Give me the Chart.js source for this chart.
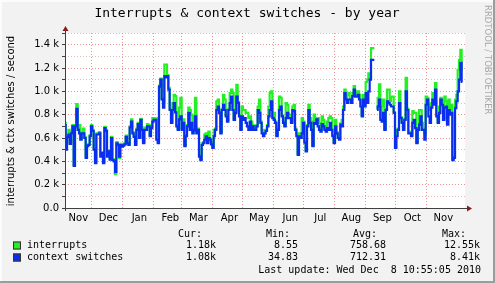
<!DOCTYPE html>
<html>
<head>
<meta charset="utf-8">
<script src="https://cdn.jsdelivr.net/npm/chart.js@4.4.1/dist/chart.umd.min.js"></script>
<style>
  html, body { margin: 0; padding: 0; background: #f2f2f2; }
  canvas { display: block; }
</style>
</head>
<body>
<canvas id="yearChart" width="495" height="283"></canvas>
<script>
// readings taken every 4/3 day, starting Nov 4 2009
var daysPerSample = 4 / 3;

var interrupts = [
  730,510,620,670,560,650,710,370,710,890,
  680,710,595,650,680,610,440,540,550,625,
  710,670,510,395,640,640,650,450,480,395,
  695,670,450,495,425,610,420,410,290,565,
  550,430,550,535,545,555,620,565,550,700,
  760,650,620,550,680,730,610,765,680,565,
  690,680,720,710,625,695,770,770,765,595,
  770,1050,1110,940,900,
  1230,1230,1140,1030,850,740,900,970,960,710,
  680,860,945,680,760,540,625,710,860,840,
  800,650,785,945,650,680,450,420,555,565,
  630,640,565,655,595,555,525,670,680,915,
  930,825,650,850,970,930,795,750,850,985,
  1015,985,765,825,1055,910,795,680,870,840,
  840,815,815,770,785,740,710,680,700,710,
  870,930,740,670,
  655,670,670,710,870,985,1000,780,815,740,
  625,700,955,945,795,740,710,900,885,800,
  800,740,870,885,680,640,465,640,610,770,
  740,570,495,710,885,770,740,540,800,755,
  770,770,730,665,785,755,680,700,740,770,
  785,770,625,565,755,650,630,595,725,755,
  870,1015,940,970,985,940,910,985,1045,1000,
  965,1000,970,915,795,970,930,1080,
  1100,1155,1110,1370,1370,1370,null,850,945,1060,
  765,870,930,680,850,1015,1015,915,955,955,
  825,525,670,680,1000,780,740,680,765,1115,
  850,650,655,625,830,815,815,565,680,840,
  840,730,680,640,955,945,885,840,900,985,
  945,1070,795,740,870,945,930,765,955,915,
  725,930,810,885,420,440,930,970,1185,1270,
  1355,1180
];

var contextSwitches = [
  710,500,610,630,550,640,700,360,700,850,
  670,640,585,640,640,600,430,530,540,615,
  700,660,500,385,630,630,640,440,470,385,
  685,660,440,485,415,600,410,400,310,555,
  540,440,540,525,535,545,610,555,540,690,
  740,640,610,540,670,720,600,755,670,555,
  670,670,700,700,615,685,740,755,755,585,
  555,1040,1100,930,860,
  1130,1120,1130,1015,840,730,840,900,820,700,
  670,760,785,670,730,530,615,700,815,670,
  730,640,670,785,640,670,440,410,540,555,
  585,615,555,600,585,545,515,615,670,840,
  870,815,640,840,885,840,785,740,840,900,
  955,840,755,815,955,900,785,670,785,755,
  770,730,700,670,740,670,700,670,670,700,
  840,815,730,640,
  615,640,660,700,785,840,915,770,755,730,
  615,670,840,870,785,730,700,770,815,770,
  770,730,840,830,670,615,455,615,600,640,
  730,560,485,700,840,730,670,530,730,720,
  760,700,670,655,720,700,670,655,685,670,
  730,670,615,555,700,640,600,585,715,700,
  840,985,930,900,930,930,900,960,1015,955,
  955,970,930,870,785,930,870,985,
  900,1000,1100,1270,1270,1270,null,840,870,930,
  755,740,815,670,840,915,900,885,870,870,
  815,515,615,670,900,770,730,670,755,1000,
  840,640,640,615,730,755,685,555,670,715,
  785,670,670,585,885,930,785,730,860,930,
  885,1015,785,730,815,930,885,755,860,870,
  715,840,800,815,410,430,855,915,1000,1100,
  1245,1080
];

var monthNames = ['Nov','Dec','Jan','Feb','Mar','Apr','May','Jun','Jul','Aug','Sep','Oct','Nov'];
var seriesNames = ['interrupts', 'context switches'];
var seriesColors = ['#22f022', '#0a2ef0'];
var statHeaders = ['Cur:', 'Min:', 'Avg:', 'Max:'];
var interruptStats = ['1.18k', '8.55', '758.68', '12.55k'];
var contextStats = ['1.08k', '34.83', '712.31', '8.41k'];
var lastUpdate = 'Last update: Wed Dec  8 10:55:05 2010';

var startTime = Date.UTC(2009, 10, 4, 8);
function dayOf(y, m, d) {
  return (Date.UTC(y, m, d) - startTime) / 86400000;
}

// month starts (grid lines) and mid-month label positions
var monthStarts = [];
var labelDays = [];
for (var i = 0; i < monthNames.length; i++) {
  var m = 10 + i;
  var start = dayOf(2009 + Math.floor(m / 12), m % 12, 1);
  if (i > 0) monthStarts.push(start);
  labelDays.push(start + 16.7);
}

function toPoints(arr) {
  return arr.map(function (v, i) { return { x: i * daysPerSample, y: v }; });
}

var mono = '"DejaVu Sans Mono", monospace';
var sans = '"DejaVu Sans", sans-serif';

var rrdFrame = {
  id: 'rrdFrame',
  beforeDraw: function (chart) {
    var c = chart.ctx, a = chart.chartArea;
    c.save();
    c.fillStyle = '#f2f2f2';
    c.fillRect(0, 0, chart.width, chart.height);
    c.fillStyle = '#fcfcfc';
    c.fillRect(0, 0, chart.width, 2);
    c.fillRect(0, 0, 2, chart.height);
    c.fillStyle = '#9c9c9c';
    c.fillRect(chart.width - 2, 0, 2, chart.height);
    c.fillRect(0, chart.height - 2, chart.width, 2);
    c.fillStyle = '#ffffff';
    c.fillRect(a.left, a.top, a.right - a.left, a.bottom - a.top);
    c.restore();
  },
  afterDraw: function (chart) {
    var c = chart.ctx, a = chart.chartArea;
    c.save();
    // axes
    c.strokeStyle = '#404040';
    c.lineWidth = 1;
    c.beginPath();
    c.moveTo(a.left + 0.5, a.bottom + 3);
    c.lineTo(a.left + 0.5, a.top - 5);
    c.moveTo(a.left - 3, a.bottom + 0.5);
    c.lineTo(a.right + 5, a.bottom + 0.5);
    c.stroke();
    c.fillStyle = '#8b1a1a';
    c.beginPath();
    c.moveTo(a.left + 0.5, a.top - 7);
    c.lineTo(a.left - 2.5, a.top - 2);
    c.lineTo(a.left + 3.5, a.top - 2);
    c.fill();
    c.beginPath();
    c.moveTo(a.right + 7, a.bottom + 0.5);
    c.lineTo(a.right + 2, a.bottom - 2.5);
    c.lineTo(a.right + 2, a.bottom + 3.5);
    c.fill();

    // title
    c.fillStyle = '#000';
    c.font = '13px ' + mono;
    c.textAlign = 'center';
    c.textBaseline = 'middle';
    c.fillText('Interrupts & context switches - by year', 247, 14);

    // y axis title
    c.save();
    c.translate(11, 121);
    c.rotate(-Math.PI / 2);
    c.font = '10px ' + sans;
    c.fillText('interrupts & ctx switches / second', 0, 0);
    c.restore();

    // watermark
    c.save();
    c.translate(487, 5);
    c.rotate(Math.PI / 2);
    c.fillStyle = '#a8a8a8';
    c.font = '8.5px ' + sans;
    c.textAlign = 'left';
    c.fillText('RRDTOOL / TOBI OETIKER', 0, 0);
    c.restore();

    // legend
    c.font = '10px ' + mono;
    c.textAlign = 'right';
    var headX = [202, 290, 377, 466];
    var valX = [216, 298, 386, 480];
    statHeaders.forEach(function (h, i) { c.fillText(h, headX[i], 234); });
    var rows = [interruptStats, contextStats];
    rows.forEach(function (stats, r) {
      var y = 245.5 + r * 12;
      c.fillStyle = seriesColors[r];
      c.fillRect(13, y - 4, 8, 8);
      c.strokeStyle = '#333';
      c.lineWidth = 1;
      c.strokeRect(13.5, y - 3.5, 7, 7);
      c.fillStyle = '#000';
      c.textAlign = 'left';
      c.fillText(seriesNames[r], 27, y);
      c.textAlign = 'right';
      stats.forEach(function (s, i) { c.fillText(s, valX[i], y); });
    });
    c.fillText(lastUpdate, 481, 270);
    c.restore();
  }
};

new Chart(document.getElementById('yearChart'), {
  type: 'line',
  data: {
    datasets: [{
      label: seriesNames[0],
      data: toPoints(interrupts),
      borderColor: seriesColors[0],
      order: 2
    }, {
      label: seriesNames[1],
      data: toPoints(contextSwitches),
      borderColor: seriesColors[1],
      order: 1
    }]
  },
  options: {
    responsive: false,
    animation: false,
    layout: { padding: { top: 33, right: 30, left: 0, bottom: 0 } },
    elements: {
      point: { radius: 0 },
      line: { borderWidth: 2.2, tension: 0, stepped: 'middle', spanGaps: false }
    },
    plugins: {
      legend: { display: false },
      tooltip: { enabled: false }
    },
    scales: {
      x: {
        type: 'linear',
        min: 0,
        max: 400,
        afterFit: function (s) { s.height = 75; },
        afterBuildTicks: function (s) {
          var t = monthStarts.concat(labelDays).sort(function (p, q) { return p - q; });
          s.ticks = t.map(function (v) { return { value: v }; });
        },
        ticks: {
          autoSkip: false,
          maxRotation: 0,
          padding: 4,
          color: '#000',
          font: { family: sans, size: 10 },
          callback: function (v) {
            var idx = labelDays.indexOf(v);
            return idx >= 0 ? monthNames[idx] : '';
          }
        },
        grid: {
          drawTicks: false,
          lineWidth: 1,
          color: function (ctx) {
            return ctx.tick && monthStarts.indexOf(ctx.tick.value) >= 0 ? 'rgba(225,110,110,0.75)' : 'rgba(0,0,0,0)';
          }
        },
        border: { display: false, dash: [1, 2] }
      },
      y: {
        min: 0,
        max: 1500,
        afterFit: function (s) { s.width = 65; },
        ticks: {
          stepSize: 100,
          autoSkip: false,
          padding: 3,
          color: '#000',
          font: { family: sans, size: 10 },
          callback: function (v) {
            if (v % 200 !== 0) return '';
            return v === 0 ? '0.0' : (v / 1000).toFixed(1) + ' k';
          }
        },
        grid: {
          lineWidth: 1,
          tickLength: 3,
          tickColor: '#404040',
          color: function (ctx) {
            return ctx.tick && ctx.tick.value % 200 === 0 ? 'rgba(225,110,110,0.75)' : 'rgba(215,140,140,0.6)';
          }
        },
        border: { display: false, dash: [1, 2] }
      }
    }
  },
  plugins: [rrdFrame]
});
</script>
</body>
</html>
